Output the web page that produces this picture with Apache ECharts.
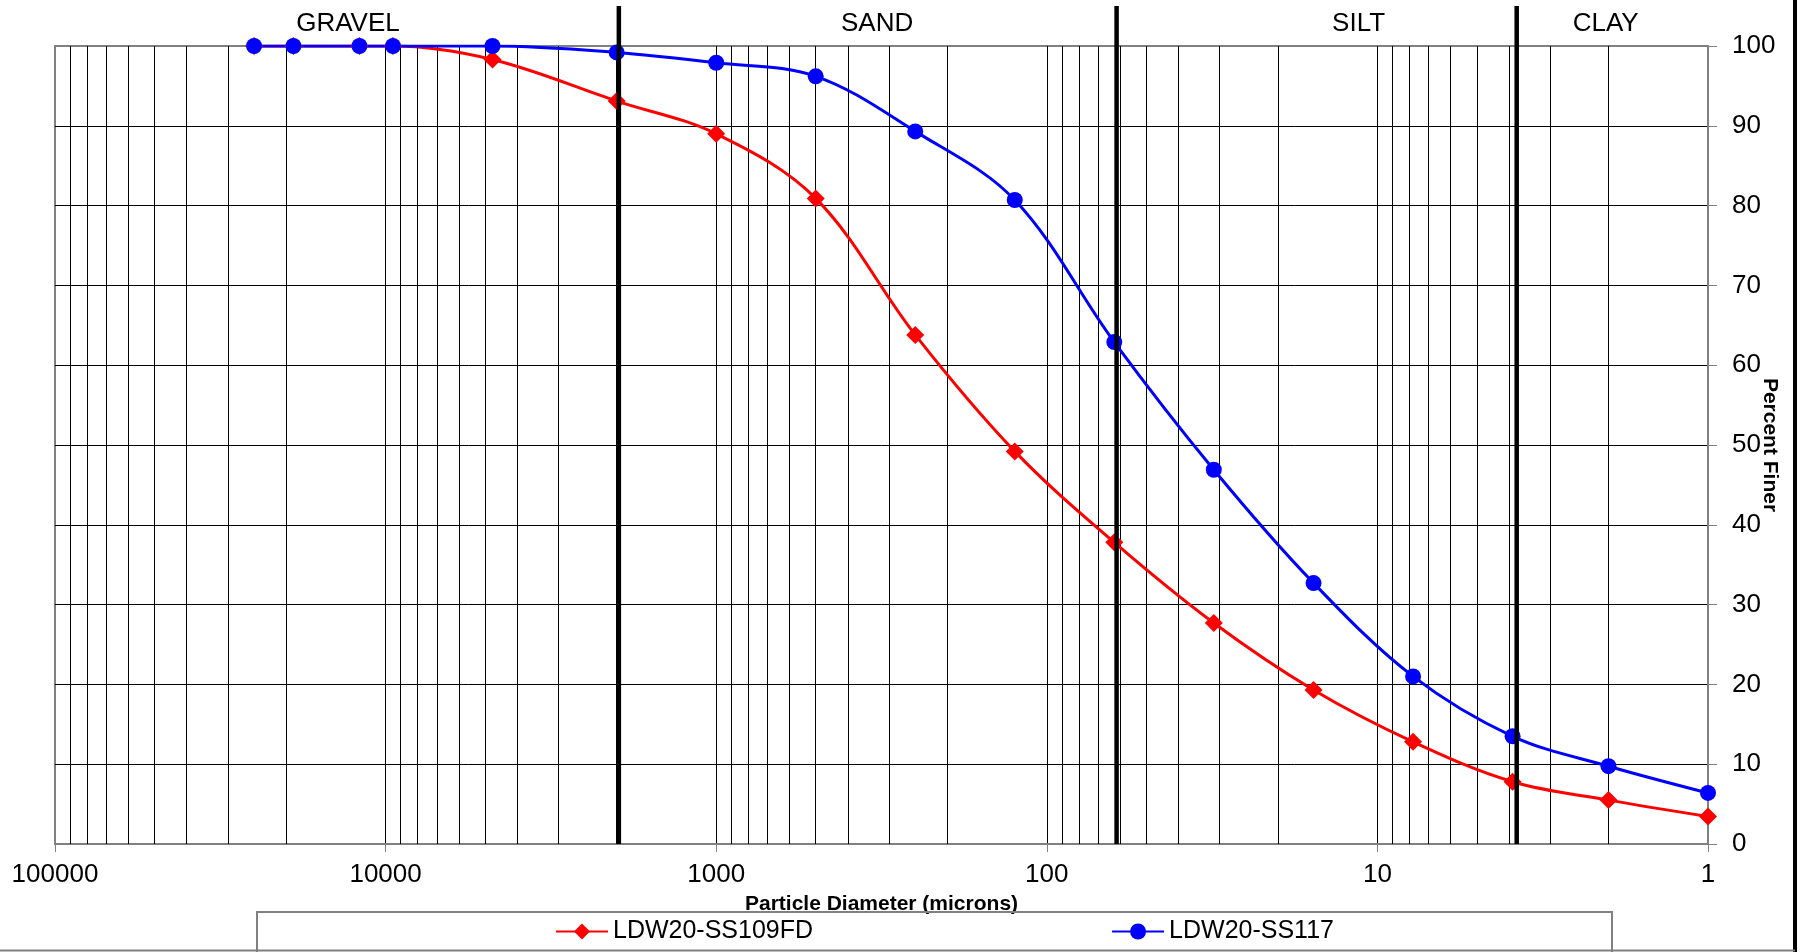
<!DOCTYPE html>
<html><head><meta charset="utf-8">
<script src="https://cdn.jsdelivr.net/npm/echarts@6/dist/echarts.min.js"></script>
<style>html,body{margin:0;padding:0;background:#fff}#c{width:1805px;height:952px}</style>
</head><body><div id="c"></div>
<script>
// ---- data ----
const diameters = [25000, 19000, 12000, 9500, 4750, 2000, 1000, 500, 250, 125, 62.5, 31.25, 15.6, 7.8, 3.9, 2, 1];
const ss109fd   = [100, 100, 100, 100, 98.3, 93.1, 89.0, 80.9, 63.8, 49.2, 37.8, 27.7, 19.3, 12.8, 7.8, 5.5, 3.45];
const ss117     = [100, 100, 100, 100, 100, 99.2, 97.9, 96.2, 89.3, 80.7, 62.9, 46.9, 32.7, 21.0, 13.5, 9.75, 6.4];
const seriesNames = ['LDW20-SS109FD', 'LDW20-SS117'];
const xTickLabels = ['1', '10', '100', '1000', '10000', '100000'];
const minorGridValues = [2,3,4,5,6,7,8,9, 20,30,40,50,60,70,80,90, 200,300,400,500,600,700,800,900,
  2000,3000,4000,5000,6000,7000,8000,9000, 20000,30000,40000,50000,60000,70000,80000,90000];
const zoneBoundaries = [1970, 61.5, 3.79];
const zoneNames = ['GRAVEL', 'SAND', 'SILT', 'CLAY'];
const zoneLabelAt = [13000, 326, 11.4, 2.04];

const FONT = '"Liberation Sans", Arial, sans-serif';
const chart = echarts.init(document.getElementById('c'), null, {renderer: 'canvas'});

const option = {
  animation: false,
  backgroundColor: '#fff',
  textStyle: {fontFamily: FONT, color: '#000'},
  grid: {left: 55, right: 97, top: 46, bottom: 108, show: true, borderColor: '#808080', borderWidth: 2,
    backgroundColor: 'transparent', containLabel: false, outerBoundsMode: 'none'},
  legend: {
    data: seriesNames, left: 555, top: 919, padding: 0,
    itemWidth: 52, itemHeight: 20, itemGap: 298,
    textStyle: {fontFamily: FONT, fontSize: 25, color: '#000'},
    selectedMode: false
  },
  xAxis: {
    type: 'log', logBase: 10, min: 1, max: 100000, inverse: true,
    name: 'Particle Diameter (microns)', nameLocation: 'middle', nameGap: 50,
    nameTextStyle: {fontFamily: FONT, fontSize: 21, fontWeight: 'bold', color: '#000'},
    axisLine: {show: true, lineStyle: {color: '#808080', width: 2}},
    axisTick: {show: true, length: 8, lineStyle: {color: '#808080', width: 1}},
    axisLabel: {fontFamily: FONT, fontSize: 26, color: '#000', margin: 18,
      formatter: v => xTickLabels.find(t => Math.abs(+t - v) < 1e-6 * Math.max(1, v)) || String(v)},
    splitLine: {show: true, showMinLine: false, showMaxLine: false, lineStyle: {color: '#000', width: 1}},
    minorTick: {show: false}, minorSplitLine: {show: false}
  },
  yAxis: {
    type: 'value', position: 'right', min: 0, max: 100, interval: 10,
    name: 'Percent Finer', nameLocation: 'middle', nameRotate: -90, nameGap: 51, nameMoveOverlap: false,
    nameTextStyle: {fontFamily: FONT, fontSize: 21, fontWeight: 'bold', color: '#000'},
    axisLine: {show: true, lineStyle: {color: '#808080', width: 2}},
    axisTick: {show: true, inside: false, length: 9, lineStyle: {color: '#808080', width: 1}},
    axisLabel: {fontFamily: FONT, fontSize: 26, color: '#000', margin: 24},
    splitLine: {show: true, showMinLine: false, showMaxLine: false, lineStyle: {color: '#000', width: 1}}
  },
  series: [
    {
      name: seriesNames[0], type: 'line', smooth: 0.35,
      data: diameters.map((d, i) => [d, ss109fd[i]]),
      symbol: 'diamond', symbolSize: 18,
      lineStyle: {color: '#ff0000', width: 3}, itemStyle: {color: '#ff0000'},
      emphasis: {disabled: true},
      markLine: {
        silent: true, z: 1, symbol: ['none', 'none'], label: {show: false},
        lineStyle: {color: '#000', width: 1, type: 'solid'},
        emphasis: {disabled: true},
        data: minorGridValues.map(v => ({xAxis: v}))
      }
    },
    {
      name: seriesNames[1], type: 'line', smooth: 0.35,
      data: diameters.map((d, i) => [d, ss117[i]]),
      symbol: 'circle', symbolSize: 16,
      lineStyle: {color: '#0000ff', width: 3}, itemStyle: {color: '#0000ff'},
      emphasis: {disabled: true}
    }
  ]
};
chart.setOption(option);

// overlay elements placed through the chart's own scales
const yBottom = chart.convertToPixel({yAxisIndex: 0}, 0);
const graphics = [];
zoneBoundaries.forEach(v => {
  const x = chart.convertToPixel({xAxisIndex: 0}, v);
  graphics.push({type: 'line', shape: {x1: x, y1: 6, x2: x, y2: yBottom}, style: {stroke: '#000', lineWidth: 4.5}, z: 10, silent: true});
});
zoneNames.forEach((n, i) => {
  const x = chart.convertToPixel({xAxisIndex: 0}, zoneLabelAt[i]);
  graphics.push({type: 'text', x: x, y: 24, style: {text: n, font: '26px ' + FONT, fill: '#000', textAlign: 'center', textVerticalAlign: 'middle'}, z: 10, silent: true});
});
graphics.push({type: 'rect', shape: {x: 257, y: 912, width: 1355, height: 60}, style: {fill: 'none', stroke: '#808080', lineWidth: 2}, z: 10, silent: true});
graphics.push({type: 'line', shape: {x1: 1795, y1: 0, x2: 1795, y2: 952}, style: {stroke: '#000', lineWidth: 4}, z: 10, silent: true});
graphics.push({type: 'line', shape: {x1: 0, y1: 950.5, x2: 1795, y2: 950.5}, style: {stroke: '#808080', lineWidth: 2}, z: 10, silent: true});
chart.setOption({graphic: graphics});
</script>
</body></html>
